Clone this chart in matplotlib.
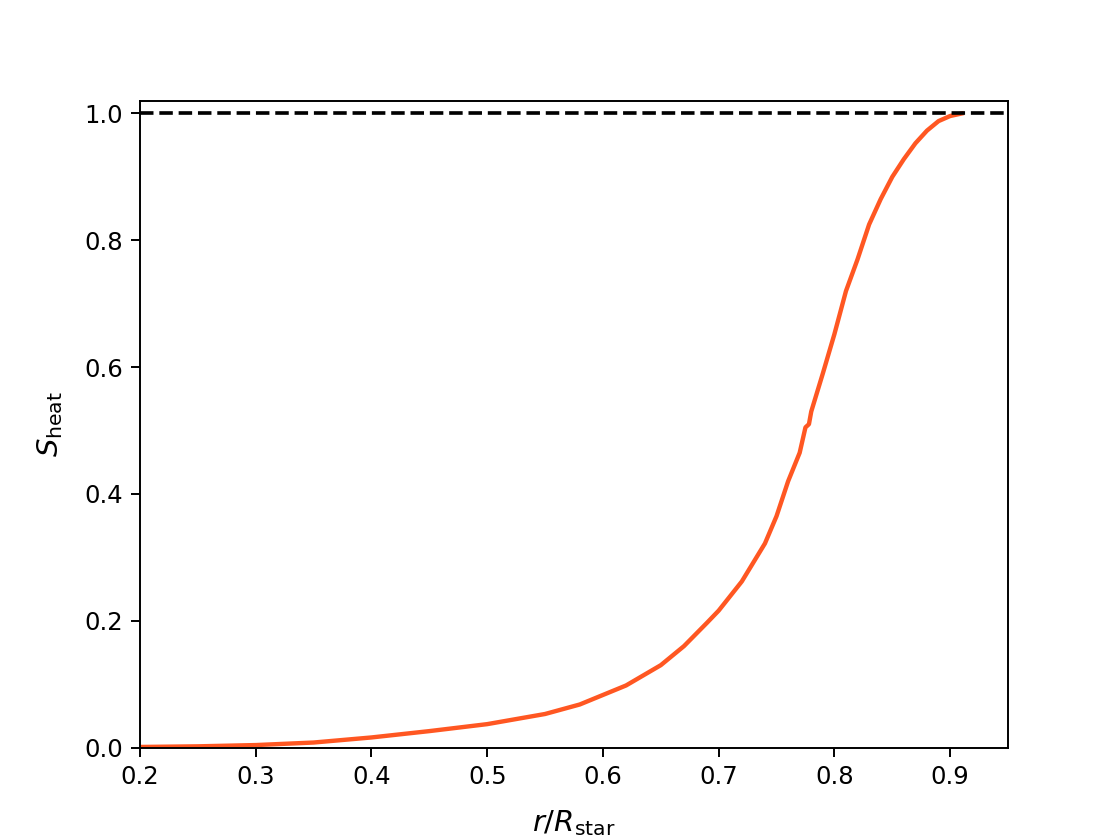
import matplotlib
matplotlib.use("Agg")
import matplotlib.pyplot as plt

# heating fraction profile
r_frac = [0.15, 0.2, 0.25, 0.3, 0.35, 0.4, 0.45, 0.5, 0.55, 0.58, 0.6, 0.62, 0.65,
          0.67, 0.69, 0.7, 0.72, 0.74, 0.75, 0.76, 0.77, 0.775, 0.778, 0.78, 0.79,
          0.8, 0.81, 0.82, 0.83, 0.84, 0.85, 0.86, 0.87, 0.88, 0.89, 0.9, 0.91]
s_heat = [0.0, 0.001, 0.002, 0.004, 0.008, 0.016, 0.026, 0.037, 0.053, 0.068, 0.083,
          0.098, 0.13, 0.16, 0.197, 0.216, 0.262, 0.322, 0.365, 0.42, 0.465, 0.505,
          0.51, 0.53, 0.59, 0.652, 0.72, 0.77, 0.825, 0.865, 0.9, 0.928, 0.953,
          0.973, 0.988, 0.996, 1.0]

fig, ax = plt.subplots(figsize=(6.4, 4.8), dpi=175)
ax.plot(r_frac, s_heat, color="#FF5722", lw=1.8)
ax.axhline(1.0, color="black", ls="--", lw=1.5)

ax.set_xlim(0.2, 0.95)
ax.set_ylim(0, 1.02)
ax.set_xlabel(r"$r/R_{\rm star}$", fontsize=12, labelpad=8)
ax.set_ylabel(r"$S_{\rm heat}$", fontsize=12, labelpad=8)

fig.savefig("out.png", dpi=175)
